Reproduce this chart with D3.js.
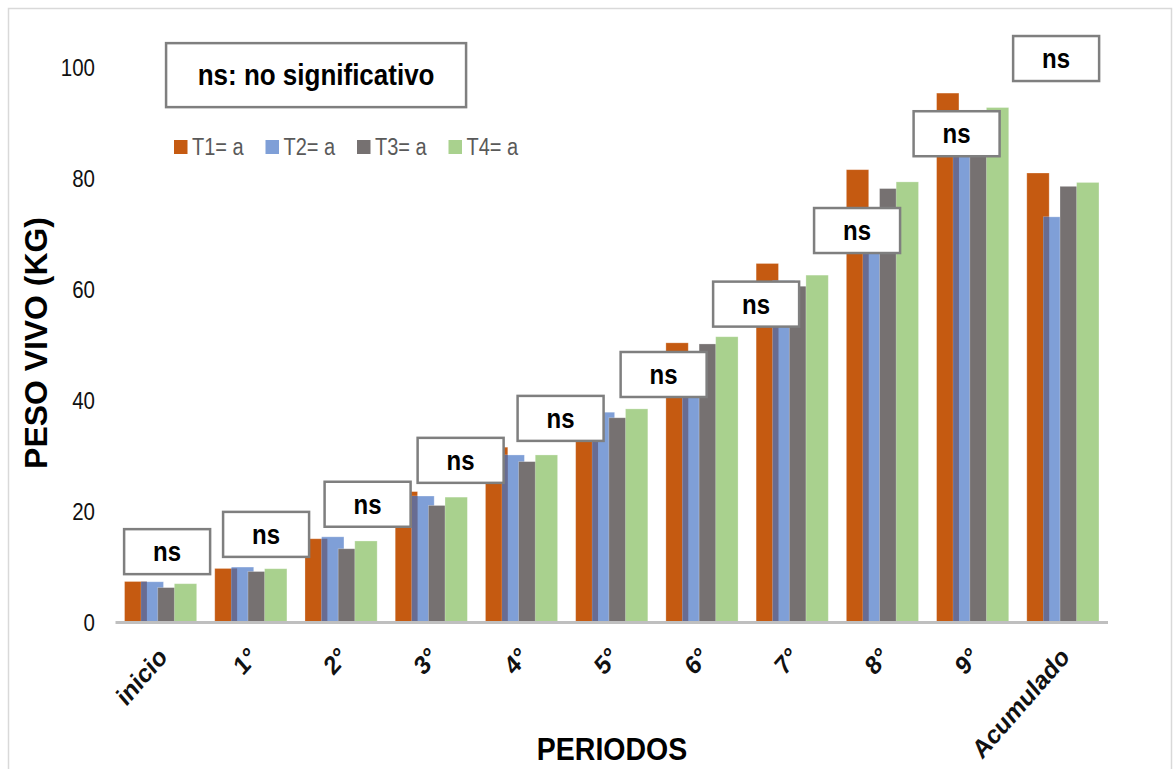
<!DOCTYPE html>
<html><head><meta charset="utf-8">
<script src="https://cdn.jsdelivr.net/npm/d3@7"></script>
<style>
body{margin:0;background:#fff}
svg{display:block}
text{font-family:Arial,"Liberation Sans",sans-serif}
</style></head><body>
<script>
// ---- data ----
const categories = ["inicio","1°","2°","3°","4°","5°","6°","7°","8°","9°","Acumulado"];
const seriesNames = ["T1= a","T2= a","T3= a","T4= a"];
const t1 = [7.3, 9.65, 15.0, 23.5, 31.5, 39.0, 50.3, 64.6, 81.5, 95.3, 80.9];
const t2 = [7.25, 9.9, 15.35, 22.7, 30.1, 37.8, 45.0, 61.5, 72.0, 88.0, 73.0];
const t3 = [6.2, 9.1, 13.2, 21.0, 28.9, 36.8, 50.1, 60.5, 78.1, 90.0, 78.5];
const t4 = [6.9, 9.6, 14.6, 22.5, 30.1, 38.4, 51.4, 62.5, 79.3, 92.7, 79.2];
const yTicks = [0, 20, 40, 60, 80, 100];
const nsLabel = "ns";
const nsNote = "ns: no significativo";
// annotation boxes: position in category-index units and top in value units
const nsBoxIndex = [0.072, 1.169, 2.294, 3.325, 4.433, 5.575, 6.6, 7.719, 8.822, 9.925];
const nsBoxTop   = [16.73, 19.84, 25.27, 33.18, 40.74, 48.65, 61.33, 74.59, 92.03, 105.58];
const noteIndex = 1.723, noteTop = 104.3;

// ---- style ----
const colors = ["#c55a11", "#7f9fd7", "#767171", "#a9d18e"];
const overlapColor = "#686c92";
const S = 1.15; // vertical text stretch of the original
const W = 1173, H = 769;

const svg = d3.select("body").append("svg").attr("width", W).attr("height", H);
svg.append("rect").attr("x", 8.5).attr("y", 8.5).attr("width", 1163).attr("height", 790)
  .attr("fill", "#fff").attr("stroke", "#d9d9d9").attr("stroke-width", 1.5);

const x = d3.scaleBand().domain(categories).range([115.5, 1108]).paddingInner(0.2).paddingOuter(0.1);
const y = d3.scaleLinear().domain([0, 100]).range([622, 67]);
const bw = x.bandwidth();
const barW = bw * 0.31;
const sub = d3.scalePoint().domain(seriesNames).range([0, bw - barW]);
const cIdx = i => x(categories[0]) + bw / 2 + i * x.step();

const series = [t1, t2, t3, t4];
const g = svg.append("g");
categories.forEach((c, ci) => {
  series.forEach((vals, si) => {
    g.append("rect")
      .attr("x", x(c) + sub(seriesNames[si]))
      .attr("y", y(vals[ci]))
      .attr("width", barW)
      .attr("height", y(0) - y(vals[ci]))
      .attr("fill", colors[si])
      .attr("stroke", "rgba(255,255,255,0.35)").attr("stroke-width", 0.8);
    if (si === 1) {
      const x0 = x(c) + sub(seriesNames[1]);
      const x1 = x(c) + sub(seriesNames[0]) + barW;
      const v = Math.min(t1[ci], t2[ci]);
      g.append("rect").attr("x", x0).attr("y", y(v)).attr("width", x1 - x0)
        .attr("height", y(0) - y(v)).attr("fill", overlapColor);
    }
  });
});

// baseline
svg.append("line").attr("x1", 115.5).attr("x2", 1108).attr("y1", y(0) + 0.5).attr("y2", y(0) + 0.5)
  .attr("stroke", "#bfbfbf").attr("stroke-width", 3);

// y tick labels
yTicks.forEach(t => {
  svg.append("text").attr("transform", `translate(95,${y(t) + 1}) scale(1,${S})`)
    .attr("text-anchor", "end").attr("dominant-baseline", "central")
    .attr("font-size", 20.5).attr("fill", "#111").text(t);
});

// x labels
categories.forEach((c, i) => {
  svg.append("text").attr("transform", `translate(${cIdx(i) + 2},${652}) scale(1,${S}) rotate(-45)`)
    .attr("text-anchor", "end").attr("dy", "0.35em")
    .attr("font-size", 23).attr("font-weight", "bold").attr("fill", "#111").text(c);
});

// axis titles
svg.append("text").attr("transform", `translate(37,343) scale(1,1.03) rotate(-90)`)
  .attr("text-anchor", "middle").attr("dominant-baseline", "central")
  .attr("font-size", 31).attr("font-weight", "bold").attr("fill", "#000").text("PESO VIVO (KG)");
svg.append("text").attr("transform", `translate(612,749) scale(1,1.1)`)
  .attr("text-anchor", "middle").attr("dominant-baseline", "central")
  .attr("font-size", 28.5).attr("font-weight", "bold").attr("fill", "#000").text("PERIODOS");

// ns boxes
const boxW = 86, boxH = 45;
nsBoxIndex.forEach((p, i) => {
  const cx = cIdx(p), top = y(nsBoxTop[i]);
  svg.append("rect").attr("x", cx - boxW / 2).attr("y", top).attr("width", boxW).attr("height", boxH)
    .attr("fill", "#fff").attr("stroke", "#7f7f7f").attr("stroke-width", 2.5);
  svg.append("text").attr("transform", `translate(${cx},${top + boxH / 2}) scale(1,${S})`)
    .attr("text-anchor", "middle").attr("dominant-baseline", "central")
    .attr("font-size", 24).attr("font-weight", "bold").attr("fill", "#000").text(nsLabel);
});
{
  const cx = cIdx(noteIndex), top = y(noteTop), nw = 300, nh = 64;
  svg.append("rect").attr("x", cx - nw / 2).attr("y", top).attr("width", nw).attr("height", nh)
    .attr("fill", "#fff").attr("stroke", "#7f7f7f").attr("stroke-width", 2.5);
  svg.append("text").attr("transform", `translate(${cx},${top + nh / 2}) scale(1,${S})`)
    .attr("text-anchor", "middle").attr("dominant-baseline", "central")
    .attr("font-size", 26).attr("font-weight", "bold").attr("fill", "#000").text(nsNote);
}

// legend
seriesNames.forEach((n, i) => {
  const lx = 174 + i * 91.5;
  svg.append("rect").attr("x", lx).attr("y", 140).attr("width", 13.5).attr("height", 14).attr("fill", colors[i]);
  svg.append("text").attr("transform", `translate(${lx + 18},147) scale(1,${S})`)
    .attr("dominant-baseline", "central").attr("font-size", 20).attr("fill", "#595959").text(n);
});
</script>
</body></html>
